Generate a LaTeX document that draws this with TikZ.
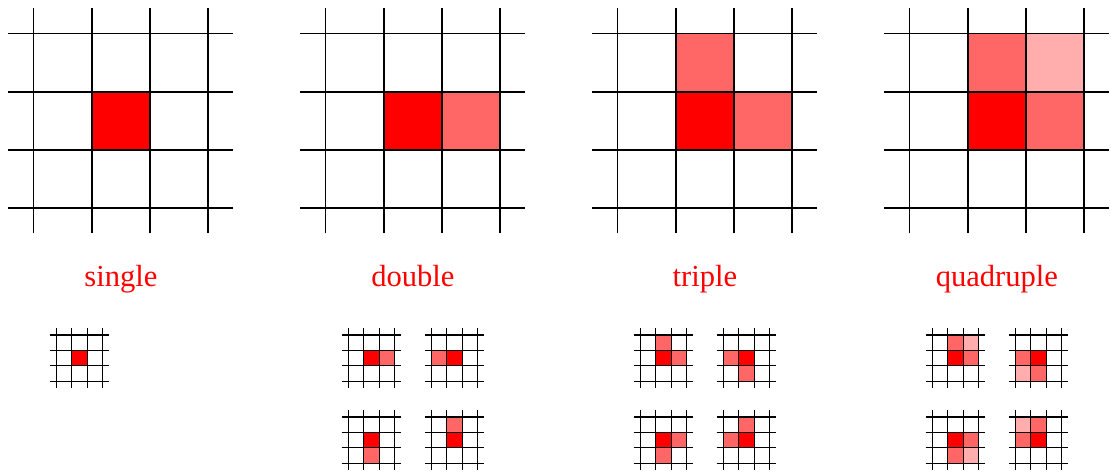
\documentclass[tikz,border=0pt]{standalone}
\usepackage{fontspec}
\setmainfont{Liberation Serif}
\usepackage{tikz}
\usetikzlibrary{positioning}

% one lattice: cells first, then the lines (unit = one cell)
\newcommand{\lattice}[2]{%
  #1
  \foreach \k in {0,...,3} {
    \draw[line width=#2] (-0.43,\k) -- (3.43,\k);
    \draw[line width=#2] (\k,-0.43) -- (\k,3.43);
  }
}
\newcommand{\cellfill}[3]{\fill[#1] (#2,#3) rectangle ++(1,1);}

\begin{document}
\begin{tikzpicture}[
    x=0.02cm, y=-0.02cm,
    lbl/.style={text=red, font=\fontsize{17.4}{20}\selectfont, anchor=base},
    big/.style={x=1.166cm, y=1.166cm},
    small/.style={x=0.308cm, y=0.308cm},
]
\useasboundingbox (0,0) rectangle (1111,472);

\colorlet{seed}{red}
\colorlet{nbr}{red!60}
\colorlet{diag}{red!32}

% Large lattices
\begin{scope}[shift={(33.5,208.4)}, big]
  \lattice{\cellfill{seed}{1}{1}}{1.1pt}
\end{scope}
\begin{scope}[shift={(325.5,208.4)}, big]
  \lattice{\cellfill{seed}{1}{1}\cellfill{nbr}{2}{1}}{1.1pt}
\end{scope}
\begin{scope}[shift={(617.5,208.4)}, big]
  \lattice{\cellfill{seed}{1}{1}\cellfill{nbr}{2}{1}\cellfill{nbr}{1}{2}}{1.1pt}
\end{scope}
\begin{scope}[shift={(909.5,208.4)}, big]
  \lattice{\cellfill{seed}{1}{1}\cellfill{nbr}{2}{1}\cellfill{nbr}{1}{2}\cellfill{diag}{2}{2}}{1.1pt}
\end{scope}

% Labels
\node[lbl] (single) at (120.9,287) {single};
\node[lbl] (double) at (412.9,287) {double};
\node[lbl] (triple) at (704.9,287) {triple};
\node[lbl] (quadruple) at (996.9,287) {quadruple};

% Small lattices: single
\begin{scope}[shift={(56.3,381.2)}, small]
  \lattice{\cellfill{seed}{1}{1}}{0.6pt}
\end{scope}

% Small lattices: double
\begin{scope}[shift={(348.3,381.2)}, small]
  \lattice{\cellfill{seed}{1}{1}\cellfill{nbr}{2}{1}}{0.6pt}
\end{scope}
\begin{scope}[shift={(431.3,381.2)}, small]
  \lattice{\cellfill{seed}{1}{1}\cellfill{nbr}{0}{1}}{0.6pt}
\end{scope}
\begin{scope}[shift={(348.3,463.2)}, small]
  \lattice{\cellfill{seed}{1}{1}\cellfill{nbr}{1}{0}}{0.6pt}
\end{scope}
\begin{scope}[shift={(431.3,463.2)}, small]
  \lattice{\cellfill{seed}{1}{1}\cellfill{nbr}{1}{2}}{0.6pt}
\end{scope}

% Small lattices: triple
\begin{scope}[shift={(640.3,381.2)}, small]
  \lattice{\cellfill{seed}{1}{1}\cellfill{nbr}{2}{1}\cellfill{nbr}{1}{2}}{0.6pt}
\end{scope}
\begin{scope}[shift={(723.3,381.2)}, small]
  \lattice{\cellfill{seed}{1}{1}\cellfill{nbr}{0}{1}\cellfill{nbr}{1}{0}}{0.6pt}
\end{scope}
\begin{scope}[shift={(640.3,463.2)}, small]
  \lattice{\cellfill{seed}{1}{1}\cellfill{nbr}{2}{1}\cellfill{nbr}{1}{0}}{0.6pt}
\end{scope}
\begin{scope}[shift={(723.3,463.2)}, small]
  \lattice{\cellfill{seed}{1}{1}\cellfill{nbr}{0}{1}\cellfill{nbr}{1}{2}}{0.6pt}
\end{scope}

% Small lattices: quadruple
\begin{scope}[shift={(932.3,381.2)}, small]
  \lattice{\cellfill{seed}{1}{1}\cellfill{nbr}{2}{1}\cellfill{nbr}{1}{2}\cellfill{diag}{2}{2}}{0.6pt}
\end{scope}
\begin{scope}[shift={(1015.3,381.2)}, small]
  \lattice{\cellfill{seed}{1}{1}\cellfill{nbr}{0}{1}\cellfill{nbr}{1}{0}\cellfill{diag}{0}{0}}{0.6pt}
\end{scope}
\begin{scope}[shift={(932.3,463.2)}, small]
  \lattice{\cellfill{seed}{1}{1}\cellfill{nbr}{2}{1}\cellfill{nbr}{1}{0}\cellfill{diag}{2}{0}}{0.6pt}
\end{scope}
\begin{scope}[shift={(1015.3,463.2)}, small]
  \lattice{\cellfill{seed}{1}{1}\cellfill{nbr}{0}{1}\cellfill{nbr}{1}{2}\cellfill{diag}{0}{2}}{0.6pt}
\end{scope}

\end{tikzpicture}
\end{document}
